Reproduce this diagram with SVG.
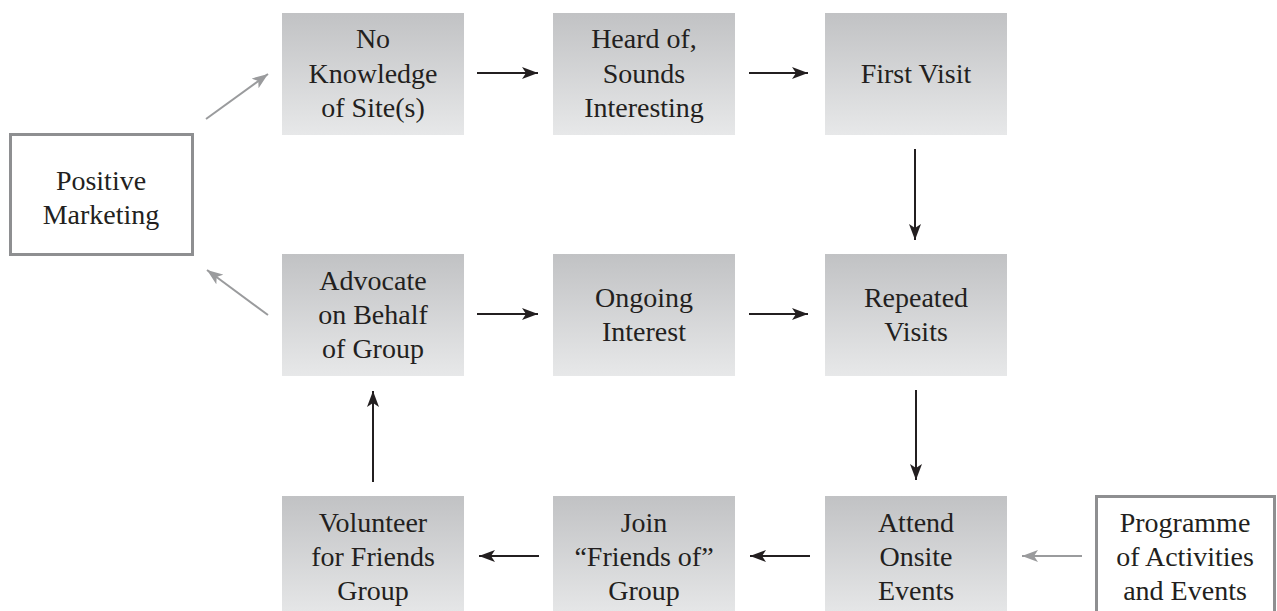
<svg xmlns="http://www.w3.org/2000/svg" width="1277" height="611" viewBox="0 0 1277 611">
<style>
.n{fill:url(#g)}
.o{fill:#fff;stroke:#8e8f91;stroke-width:3}
text{font-family:"Liberation Serif","Times New Roman",serif;font-size:28px;fill:#231f20;text-anchor:middle}
.b{stroke:#231f20;stroke-width:2;fill:none;marker-end:url(#ab)}
.y{stroke:#9a9b9d;stroke-width:2;fill:none;marker-end:url(#ag)}
</style>
<defs>
<linearGradient id="g" x1="0" y1="0" x2="0" y2="1">
<stop offset="0" stop-color="#c1c2c4"/>
<stop offset="1" stop-color="#e7e8e9"/>
</linearGradient>
<marker id="ab" viewBox="0 0 16 12" markerWidth="16" markerHeight="12" refX="16" refY="6" orient="auto" markerUnits="userSpaceOnUse"><path d="M0,0 L16,6 L0,12 L4,6 z" fill="#231f20"/></marker>
<marker id="ag" viewBox="0 0 16 12" markerWidth="16" markerHeight="12" refX="16" refY="6" orient="auto" markerUnits="userSpaceOnUse"><path d="M0,0 L16,6 L0,12 L4,6 z" fill="#9a9b9d"/></marker>
</defs>
<g id="connectors">
<path class="y" d="M206,119 L268,74"/>
<path class="y" d="M268,315 L207,270"/>
<path class="b" d="M477,73 L538,73"/>
<path class="b" d="M749,73 L808,73"/>
<path class="b" d="M915,149 L915,240"/>
<path class="b" d="M477,314 L538,314"/>
<path class="b" d="M749,314 L808,314"/>
<path class="b" d="M916,390 L916,480"/>
<path class="b" d="M810,556 L750,556"/>
<path class="b" d="M539,556 L479,556"/>
<path class="b" d="M373,482 L373,391"/>
<path class="y" d="M1082,556 L1022,556"/>
</g>
<g id="positive-marketing"><rect class="o" x="10.5" y="134.5" width="182" height="120"/><text x="101" y="190">Positive</text><text x="101" y="224">Marketing</text></g>
<g id="no-knowledge"><rect class="n" x="282" y="13" width="182" height="122"/><text x="373" y="48">No</text><text x="373" y="83">Knowledge</text><text x="373" y="117">of Site(s)</text></g>
<g id="heard-of"><rect class="n" x="553" y="13" width="182" height="122"/><text x="644" y="48">Heard of,</text><text x="644" y="83">Sounds</text><text x="644" y="117">Interesting</text></g>
<g id="first-visit"><rect class="n" x="825" y="13" width="182" height="122"/><text x="916" y="83">First Visit</text></g>
<g id="advocate"><rect class="n" x="282" y="254" width="182" height="122"/><text x="373" y="290">Advocate</text><text x="373" y="324">on Behalf</text><text x="373" y="358">of Group</text></g>
<g id="ongoing-interest"><rect class="n" x="553" y="254" width="182" height="122"/><text x="644" y="307">Ongoing</text><text x="644" y="341">Interest</text></g>
<g id="repeated-visits"><rect class="n" x="825" y="254" width="182" height="122"/><text x="916" y="307">Repeated</text><text x="916" y="341">Visits</text></g>
<g id="volunteer"><rect class="n" x="282" y="496" width="182" height="122"/><text x="373" y="532">Volunteer</text><text x="373" y="566">for Friends</text><text x="373" y="600">Group</text></g>
<g id="join-friends"><rect class="n" x="553" y="496" width="182" height="122"/><text x="644" y="532">Join</text><text x="644" y="566">“Friends of”</text><text x="644" y="600">Group</text></g>
<g id="attend-events"><rect class="n" x="825" y="496" width="182" height="122"/><text x="916" y="532">Attend</text><text x="916" y="566">Onsite</text><text x="916" y="600">Events</text></g>
<g id="programme"><rect class="o" x="1096.5" y="496.5" width="178" height="130"/><text x="1185" y="532">Programme</text><text x="1185" y="566">of Activities</text><text x="1185" y="600">and Events</text></g>
</svg>
